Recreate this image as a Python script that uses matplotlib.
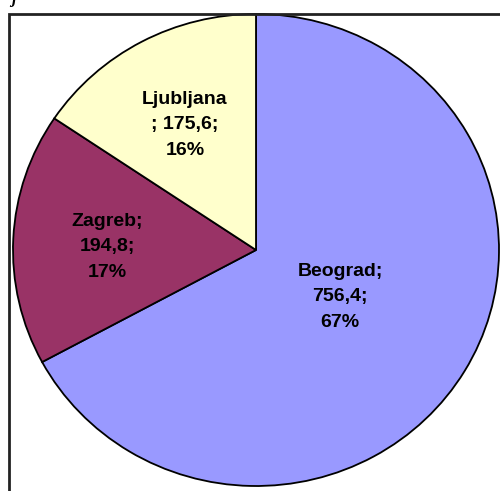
import matplotlib.pyplot as plt
from matplotlib.patches import Rectangle

cities = ["Beograd", "Zagreb", "Ljubljana"]
values = [756.4, 194.8, 175.6]
percents = [67, 17, 16]
colors = ["#9999FF", "#993366", "#FFFFCC"]

W, H = 500, 491
fig = plt.figure(figsize=(W / 100, H / 100), dpi=100)
ax = fig.add_axes([0, 0, 1, 1])

# pie is slightly stretched sideways: rx=243px, ry=236px
cx, cy, rx, ry = 256, 250, 243, 236
ax.pie(values, colors=colors, startangle=90, counterclock=False,
       wedgeprops=dict(edgecolor="black", linewidth=1.3))
ax.set_aspect("auto")
ax.set_xlim(-cx / rx, (W - cx) / rx)
ax.set_ylim(-(H - cy) / ry, cy / ry)
ax.axis("off")


def px(x, y):
    return (x - cx) / rx, (cy - y) / ry


# plot area border
fig.add_artist(Rectangle((8.5 / W, -0.05), 1.2, 1.05 - 14 / H,
                         transform=fig.transFigure, fill=False,
                         edgecolor="#222222", linewidth=2))

label_text = [
    f"{cities[0]};\n{values[0]:.1f};\n{percents[0]}%".replace(".", ","),
    f"{cities[1]};\n{values[1]:.1f};\n{percents[1]}%".replace(".", ","),
    f"{cities[2]}\n; {values[2]:.1f};\n{percents[2]}%".replace(".", ","),
]
label_pos = [(340, 297), (107, 247), (185, 125)]
for txt, (x, y) in zip(label_text, label_pos):
    ax.text(*px(x, y), txt, ha="center", va="center", fontsize=14,
            fontweight="bold", family="Liberation Sans", linespacing=1.62)

# clipped title glyph at the top edge
fig.text(11 / W, 1 + 1 / H, "j", ha="left", va="center", fontsize=12,
         fontweight="bold", style="italic", family="Liberation Serif")

fig.savefig("out.png", dpi=100)
